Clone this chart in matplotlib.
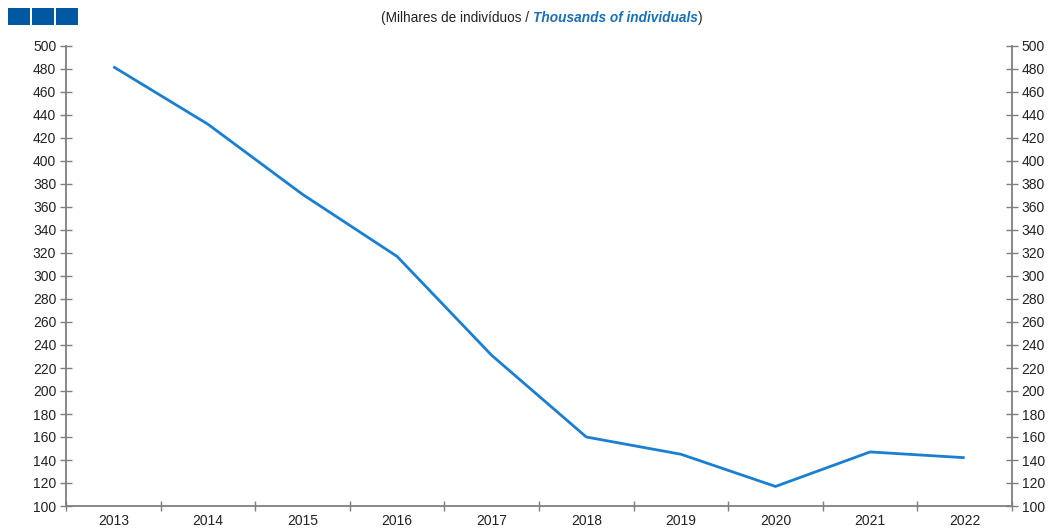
import numpy as np
import matplotlib
matplotlib.use("Agg")
import matplotlib.pyplot as plt
from matplotlib.patches import Rectangle

plt.rcParams['font.family'] = ['Liberation Sans', 'DejaVu Sans']

years = ['2013', '2014', '2015', '2016', '2017', '2018', '2019', '2020', '2021', '2022']
values = [482, 432, 371, 317, 231, 160, 145, 117, 147, 142]

line_color = '#1a7fd0'
spine_color = '#7f7f7f'

fig = plt.figure(figsize=(10.53, 5.28), dpi=100)
ax = fig.add_axes([66 / 1053, 22 / 528, 946 / 1053, 460 / 528])

x = np.arange(len(years))
ax.plot(x, values, color=line_color, lw=2.0, solid_capstyle='butt')

ax.set_xlim(-0.5, len(years) - 0.5)
ax.set_ylim(100, 500)
ax.set_yticks(np.arange(100, 501, 20))
ax.set_xticks(x)
ax.set_xticklabels(years)
ax.set_xticks(np.arange(-0.5, len(years) - 0.4, 1), minor=True)
ax.tick_params(axis='x', which='major', length=0, labelsize=10, pad=6,
               labelcolor='#222222')
ax.tick_params(axis='x', which='minor', direction='inout', length=7,
               color=spine_color, width=1)
ax.tick_params(axis='y', direction='inout', length=8, color=spine_color,
               width=1, labelsize=10, pad=3, right=True, labelright=True,
               labelcolor='#222222')

ax.spines['top'].set_visible(False)
for s in ['left', 'right', 'bottom']:
    ax.spines[s].set_color(spine_color)
    ax.spines[s].set_linewidth(1.3)

# header squares
for i in range(3):
    fig.patches.append(Rectangle(((8 + i * 24) / 1053, 1 - 25 / 528), 22 / 1053, 17 / 528,
                                 transform=fig.transFigure, color='#0058a3', lw=0))

# title, in three parts
parts = [('(Milhares de indivíduos / ', '#222222', 'normal', 'normal'),
         ('Thousands of individuals', '#1a6fb8', 'bold', 'italic'),
         (')', '#222222', 'normal', 'normal')]
fig.canvas.draw()
r = fig.canvas.get_renderer()
texts = []
for s, c, w, st in parts:
    t = fig.text(0, 1 - 18 / 528, s, color=c, fontweight=w, fontstyle=st,
                 fontsize=9.8, va='center', ha='left')
    texts.append(t)
widths = [t.get_window_extent(r).width for t in texts]
xpos = 542 - sum(widths) / 2
for t, w in zip(texts, widths):
    t.set_x(xpos / 1053)
    xpos += w

fig.savefig('out.png', dpi=100)
